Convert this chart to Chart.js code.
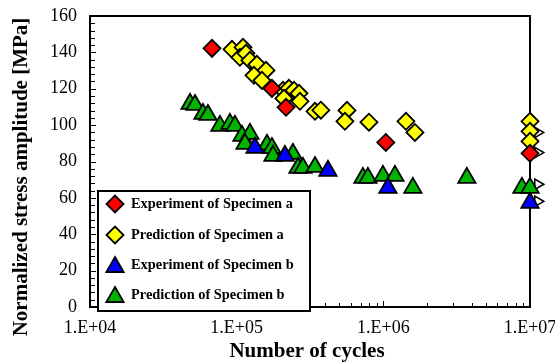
<!DOCTYPE html>
<html>
<head>
<meta charset="utf-8">
<script src="https://cdn.jsdelivr.net/npm/chart.js@4.4.0/dist/chart.umd.min.js"></script>
<style>
html,body{margin:0;padding:0;background:#fff;}
</style>
</head>
<body>
<canvas id="chart" width="555" height="362"></canvas>
<script>
// values (cycles, MPa)
var expA_N  = [6.79e4, 1.74e5, 2.17e5, 1.04e6, 1e7];
var expA_S  = [142.2, 120.2, 109.8, 90.5, 84.5];
var predA_N = [9.29e4, 1.104e5, 1.053e5, 1.157e5, 1.232e5, 1.375e5, 1.585e5, 1.312e5, 1.488e5,
               2.07e5, 2.27e5, 2.46e5, 2.66e5, 2.10e5, 2.70e5, 3.42e5, 3.75e5, 5.65e5, 5.47e5,
               7.98e5, 1.426e6, 1.642e6, 1e7, 1e7, 1e7];
var predA_S = [141.7, 142.8, 137.3, 139.5, 135.6, 133.4, 130.1, 127.4, 124.6,
               119.1, 120.2, 119.1, 117.5, 114.7, 113.1, 107.6, 108.2, 108.1, 102.1,
               101.6, 102.1, 96.0, 102.1, 96.6, 91.1];
var expB_N  = [1.333e5, 2.135e5, 4.19e5, 1.075e6, 1e7];
var expB_S  = [87.5, 83.1, 74.9, 65.5, 57.3];
var predB_N = [4.81e4, 5.20e4, 5.89e4, 6.37e4, 7.69e4, 9.00e4, 9.74e4, 1.087e5, 1.232e5, 1.139e5,
               1.609e5, 1.740e5, 1.768e5, 2.42e5, 2.62e5, 2.83e5, 3.42e5, 7.26e5, 7.85e5, 9.94e5,
               1.20e6, 1.59e6, 3.71e6, 8.81e6, 1e7];
var predB_S = [111.7, 111.1, 106.2, 105.6, 99.6, 100.7, 99.6, 94.1, 95.2, 89.7,
               89.2, 87.4, 83.1, 84.2, 76.5, 76.5, 77.0, 71.0, 71.0, 72.1,
               72.1, 65.5, 71.0, 65.5, 65.5];
// run-out arrows just right of 1E+07
var runout_N = [1.13e7, 1.13e7, 1.13e7, 1.13e7];
var runout_S = [96.0, 84.9, 67.5, 58.1];

var seriesNames = ['Experiment of Specimen a', 'Prediction of Specimen a',
                   'Experiment of Specimen b', 'Prediction of Specimen b'];
var xTickVals   = [1e4, 1e5, 1e6, 1e7];
var xTickLabels = ['1.E+04', '1.E+05', '1.E+06', '1.E+07'];
var yTitle = 'Normalized stress amplitude [MPa]';
var xTitle = 'Number of cycles';

function pts(xs, ys){
    return xs.map(function(x, i){ return {x: x, y: ys[i]}; });
}

var serif = "'Liberation Serif', 'Times New Roman', serif";

function mk(label, xs, ys, color, style, r){
    return {
        label: label,
        data: pts(xs, ys),
        pointStyle: style,
        pointRadius: r,
        pointHoverRadius: r,
        backgroundColor: color,
        borderColor: '#000',
        borderWidth: 1.8,
        clip: false
    };
}

var datasets = [
    mk(seriesNames[0], expA_N, expA_S, '#ff0000', 'rectRot', 8.5),
    mk(seriesNames[1], predA_N, predA_S, '#ffff00', 'rectRot', 8.5),
    mk(seriesNames[2], expB_N, expB_S, '#0000ff', 'triangle', 10),
    mk(seriesNames[3], predB_N, predB_S, '#00b400', 'triangle', 10)
];

var framePlugin = {
    id: 'frame',
    beforeDatasetsDraw: function(chart){
        var ctx = chart.ctx, a = chart.chartArea;
        var xs = chart.scales.x, ys = chart.scales.y;
        ctx.save();
        ctx.strokeStyle = '#000';
        ctx.lineWidth = 1;
        // y ticks, inside
        for (var v = 0; v <= 160; v += 4) {
            var py = Math.round(ys.getPixelForValue(v)) + 0.5;
            var len = (v % 20 === 0) ? 6 : 5;
            ctx.beginPath(); ctx.moveTo(a.left, py); ctx.lineTo(a.left + len, py); ctx.stroke();
        }
        // x log ticks, inside
        for (var d = 4; d <= 6; d++) {
            for (var m = 1; m <= 9; m++) {
                var px = Math.round(xs.getPixelForValue(m * Math.pow(10, d))) + 0.5;
                var l2 = (m === 1) ? 6 : 4;
                ctx.beginPath(); ctx.moveTo(px, a.bottom); ctx.lineTo(px, a.bottom - l2); ctx.stroke();
            }
        }
        ctx.lineWidth = 2;
        ctx.strokeRect(a.left, a.top, a.right - a.left, a.bottom - a.top);

        // run-out arrows (outside the x range, so drawn here via the scales)
        ctx.fillStyle = '#fff';
        ctx.strokeStyle = '#000';
        ctx.lineWidth = 1.5;
        for (var k = 0; k < runout_N.length; k++) {
            Chart.helpers.drawPoint(ctx, {pointStyle: 'triangle', rotation: 90, radius: 6, borderWidth: 1.5},
                xs.getPixelForValue(runout_N[k]), ys.getPixelForValue(runout_S[k]));
        }
        ctx.restore();
    },
    afterDraw: function(chart){
        var ctx = chart.ctx;
        ctx.save();
        // axis titles
        ctx.fillStyle = '#000';
        ctx.font = 'bold 21px ' + serif;
        ctx.textAlign = 'center';
        ctx.textBaseline = 'middle';
        ctx.fillText(xTitle, 307, 352);
        ctx.translate(22, 177);
        ctx.rotate(-Math.PI / 2);
        ctx.fillText(yTitle, 0, 0);
        ctx.restore();

        // legend box
        ctx.save();
        ctx.fillStyle = '#fff';
        ctx.fillRect(98, 191, 212, 120);
        ctx.strokeStyle = '#000';
        ctx.lineWidth = 2;
        ctx.strokeRect(98, 191, 212, 120);
        var rows = [204, 235, 265, 295];
        for (var i = 0; i < 4; i++) {
            var ds = chart.data.datasets[i];
            ctx.fillStyle = ds.backgroundColor;
            ctx.strokeStyle = '#000';
            ctx.lineWidth = ds.borderWidth;
            Chart.helpers.drawPoint(ctx, {
                pointStyle: ds.pointStyle, rotation: 0,
                radius: ds.pointRadius, borderWidth: ds.borderWidth
            }, 115, rows[i] + (ds.pointStyle === 'triangle' ? 2 : 0));
            ctx.fillStyle = '#000';
            ctx.font = 'bold 14.4px ' + serif;
            ctx.textAlign = 'left';
            ctx.textBaseline = 'middle';
            ctx.fillText(ds.label, 131, rows[i]);
        }
        ctx.restore();
    }
};

new Chart(document.getElementById('chart'), {
    type: 'scatter',
    data: { datasets: datasets },
    options: {
        responsive: false,
        devicePixelRatio: 1,
        animation: false,
        layout: { padding: { left: 0, right: 25, top: 16, bottom: 0 } },
        plugins: { legend: { display: false }, tooltip: { enabled: false } },
        scales: {
            x: {
                type: 'logarithmic',
                min: 1e4,
                max: 1e7,
                afterBuildTicks: function(scale){
                    scale.ticks = xTickVals.map(function(v){ return {value: v}; });
                },
                afterFit: function(scale){
                    scale.height = 55;
                    scale.paddingLeft = 0;
                    scale.paddingRight = 0;
                },
                grid: { display: false, drawTicks: false },
                border: { display: false },
                ticks: {
                    autoSkip: false,
                    maxRotation: 0,
                    padding: 10,
                    color: '#000',
                    font: { family: serif, size: 18 },
                    callback: function(v, i){ return xTickLabels[i]; }
                }
            },
            y: {
                min: 0,
                max: 160,
                afterFit: function(scale){
                    scale.width = 90;
                    scale.paddingTop = 0;
                    scale.paddingBottom = 0;
                },
                grid: { display: false, drawTicks: false },
                border: { display: false },
                ticks: {
                    stepSize: 20,
                    padding: 13,
                    color: '#000',
                    font: { family: serif, size: 18 }
                }
            }
        }
    },
    plugins: [framePlugin]
});
</script>
</body>
</html>
